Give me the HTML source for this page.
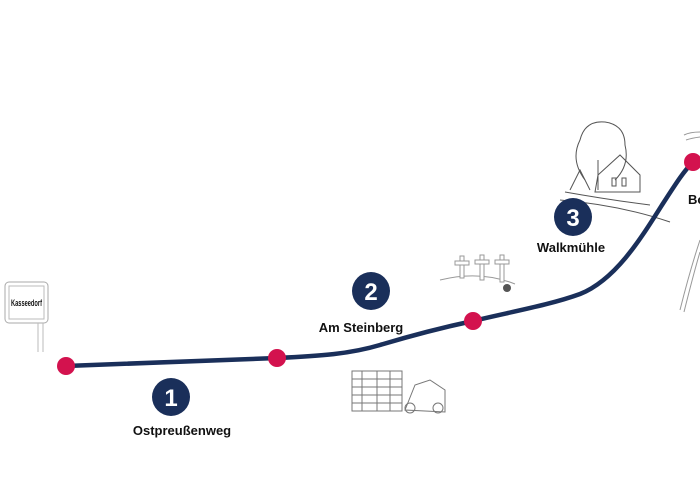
<!DOCTYPE html>
<html><head><meta charset="utf-8"><style>
body{margin:0;background:#fff;width:700px;height:485px;overflow:hidden}
svg{display:block}
text{font-family:"Liberation Sans",sans-serif;font-weight:bold;fill:#111}
</style></head><body>
<svg width="700" height="485" viewBox="0 0 700 485">
<!-- sign -->
<rect x="5" y="282" width="43" height="41" rx="4" fill="#fff" stroke="#aaa" stroke-width="1"/>
<rect x="9" y="286" width="35" height="33" fill="none" stroke="#bbb" stroke-width="1"/>
<line x1="38" y1="323" x2="38" y2="352" stroke="#bbb"/>
<line x1="43" y1="323" x2="43" y2="352" stroke="#bbb"/>
<text x="11" y="306" font-size="9" textLength="31" lengthAdjust="spacingAndGlyphs" style="font-weight:bold">Kasseedorf</text>
<!-- crosses -->
<g stroke="#999" fill="#fff" stroke-width="1">
<path d="M440 280 Q480 270 515 284" fill="none"/>
<rect x="460" y="256" width="4" height="22"/><rect x="455" y="261" width="14" height="4"/>
<rect x="480" y="255" width="4" height="25"/><rect x="475" y="260" width="14" height="4"/>
<rect x="500" y="255" width="4" height="27"/><rect x="495" y="260" width="14" height="4"/>
</g>
<circle cx="507" cy="288" r="4" fill="#555"/>
<!-- wall -->
<g stroke="#777" fill="none" stroke-width="1">
<rect x="352" y="371" width="50" height="40"/>
<path d="M352 379h50M352 387h50M352 395h50M352 403h50M362 371v40M377 371v40M390 371v40"/>
<path d="M405 410 L415 385 L430 380 L445 390 L445 412 Z"/>
<circle cx="410" cy="408" r="5"/><circle cx="438" cy="408" r="5"/>
</g>
<!-- house -->
<g stroke="#555" fill="none" stroke-width="1">
<path d="M585 180 Q570 160 580 140 Q585 120 605 122 Q625 125 625 145 Q630 165 615 180"/>
<path d="M598 190 L598 160"/>
<path d="M595 192 L598 175 L620 155 L640 175 L640 192 Z"/>
<path d="M570 190 L580 170 L590 190"/>
<path d="M565 192 Q610 200 650 205"/>
<path d="M560 200 Q620 205 670 222"/>
<rect x="612" y="178" width="4" height="8"/><rect x="622" y="178" width="4" height="8"/>
</g>
<g stroke="#999" fill="none"><path d="M684 135 Q690 132 700 132"/><path d="M686 140 Q692 138 700 137"/><path d="M680 310 Q690 270 700 240"/><path d="M684 312 Q694 272 700 252"/></g>
<!-- route -->
<path d="M66 366 L277 358 C320 356 350 354 380 345 C410 336 440 328 473 321 C510 312 550 305 580 294 C615 280 640 240 662 205 C675 185 683 172 693 162" fill="none" stroke="#1a2f5a" stroke-width="4.5" stroke-linecap="round"/>
<g fill="#d3124e">
<circle cx="66" cy="366" r="9"/><circle cx="277" cy="358" r="9"/><circle cx="473" cy="321" r="9"/><circle cx="693" cy="162" r="9"/>
</g>
<g fill="#1a2f5a">
<circle cx="171" cy="397" r="19"/><circle cx="371" cy="291" r="19"/><circle cx="573" cy="217" r="19"/>
</g>
<g font-size="24" text-anchor="middle">
<text x="171" y="406" style="fill:#fff">1</text>
<text x="371" y="300" style="fill:#fff">2</text>
<text x="573" y="226" style="fill:#fff">3</text>
</g>
<g font-size="13" text-anchor="middle">
<text x="182" y="435">Ostpreußenweg</text>
<text x="361" y="332">Am Steinberg</text>
<text x="571" y="252">Walkmühle</text>
</g>
<text x="688" y="204" font-size="13">Bo</text>
</svg>
</body></html>
